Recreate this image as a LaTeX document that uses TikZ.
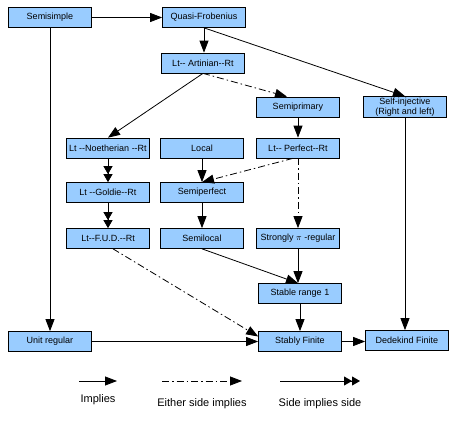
\documentclass[tikz,border=0pt]{standalone}
\usepackage{fontspec}
\setmainfont{Liberation Sans}[Ligatures=TeXOff]
\usetikzlibrary{arrows.meta}
\definecolor{boxblue}{RGB}{153,204,255}
\begin{document}
\begin{tikzpicture}[x=1pt,y=-1pt,
  box/.style={draw=black,line width=0.7pt,fill=boxblue,minimum width=83pt,minimum height=20pt,inner sep=1pt,align=center,font=\fontsize{9}{10.5}\selectfont},
  imp/.style={line width=0.8pt,-{Triangle[length=12pt,width=9pt]}},
  dbl/.style={line width=0.8pt,-{Triangle[length=8pt,width=9pt] Triangle[length=8pt,width=9pt]}},
  dd/.style={imp,dash pattern=on 7pt off 3pt on 1.5pt off 3pt},
  leg/.style={font=\fontsize{11}{13}\selectfont}]
\useasboundingbox[fill=white] (0,0) rectangle (456,423);
\node[box] (ss) at (50,17.5) {Semisimple};
\node[box] (qf) at (204,17.5) {Quasi-Frobenius};
\node[box] (art) at (203,63) {Lt-- Artinian--Rt};
\node[box] (sp) at (298,107) {Semiprimary};
\node[box] (si) at (405,107) {Self-injective\\(Right and left)};
\node[box] (noe) at (108,148) {Lt --Noetherian --Rt};
\node[box] (loc) at (202,148) {Local};
\node[box] (perf) at (298,148) {Lt-- Perfect--Rt};
\node[box] (gol) at (108,192.5) {Lt --Goldie--Rt};
\node[box] (sperf) at (202,192.5) {Semiperfect};
\node[box] (fud) at (108,238.5) {Lt--F.U.D.--Rt};
\node[box] (sl) at (202,238.5) {Semilocal};
\node[box] (spr) at (298,238.5) {Strongly $\pi$ -regular};
\node[box] (sr) at (300,293.5) {Stable range 1};
\node[box] (ur) at (50,341.5) {Unit regular};
\node[box] (sf) at (300,341.5) {Stably Finite};
\node[box] (dk) at (407,340.5) {Dedekind Finite};

\draw[imp] (ss) -- (qf);
\draw[imp] (qf.south) -- (qf.south |- art.north);
\draw[imp] (qf.south) -- (si.north);
\draw[imp] (art.south) -- (noe.north);
\draw[dd] (art.south) -- ([xshift=-11pt]sp.north);
\draw[imp] (sp) -- (perf);
\draw[dbl] (noe) -- (gol);
\draw[dbl] (gol) -- (fud);
\draw[imp] (loc) -- (sperf);
\draw[dd] ([xshift=-5pt]perf.south) -- (sperf.north);
\draw[dd] (perf) -- (spr);
\draw[imp] (sperf) -- (sl);
\draw[imp] (sl.south) -- ([xshift=-2pt]sr.north);
\draw[imp] (spr.south) -- (spr.south |- sr.north);
\draw[dd] ([xshift=5pt]fud.south) -- ([yshift=5pt]sf.west);
\draw[imp] (sr) -- (sf);
\draw[imp] (ur) -- (sf);
\draw[imp] (ss) -- (ur);
\draw[imp] (sf) -- (sf -| dk.west);
\draw[imp] (si.south) -- (si.south |- dk.north);

\coordinate (a1) at (79,381);
\coordinate (a2) at (117,381);
\coordinate (b1) at (162,381);
\coordinate (b2) at (242,381);
\coordinate (c1) at (280,381);
\coordinate (c2) at (360,381);
\draw[imp] (a1) -- (a2);
\draw[dd] (b1) -- (b2);
\draw[dbl] (c1) -- (c2);
\node[leg] (l1) at (98,400) {Implies};
\node[leg] (l2) at (202,404) {Either side implies};
\node[leg] (l3) at (320,404) {Side implies side};
\end{tikzpicture}
\end{document}
